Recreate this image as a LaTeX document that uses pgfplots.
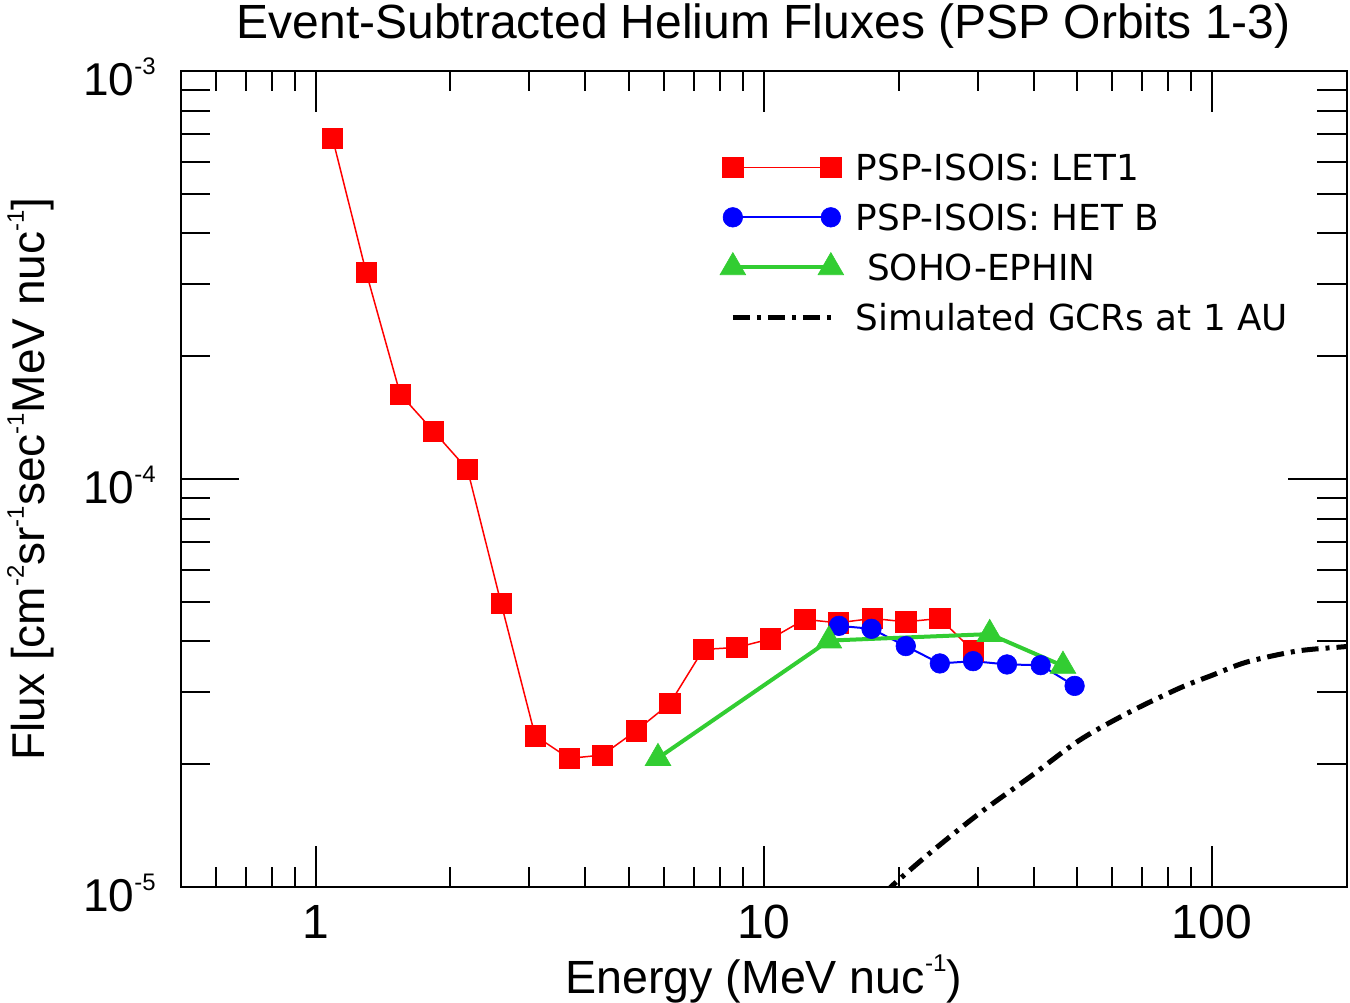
\documentclass[border=0pt]{standalone}
\usepackage{fontspec}
\setmainfont{Liberation Sans}
\newfontfamily\legendfont{DejaVu Sans}
\usepackage{graphicx}
\usepackage{pgfplots}
\pgfplotsset{compat=1.18}
\definecolor{lgreen}{RGB}{50,205,50}
\newcommand{\sups}[1]{\raisebox{0.46em}{\scalebox{0.52}{#1}}}
\begin{document}
\begin{tikzpicture}
\begin{axis}[
  at={(0pt,0pt)}, anchor=south west,
  scale only axis, width=583pt, height=408pt,
  xmode=log, ymode=log,
  xmin=0.5, xmax=200, ymin=1e-5, ymax=1e-3,
  tick align=inside, tick pos=both,
  axis line style={line width=1pt, black},
  every tick/.style={line width=1pt, black},
  major tick length=20.5pt, minor tick length=10pt,
  xtick={1,10,100}, xticklabels={1,10,100},
  minor xtick={0.6,0.7,0.8,0.9,2,3,4,5,6,7,8,9,20,30,40,50,60,70,80,90},
  ytick=\empty,
  xticklabel pos=lower,
  xticklabel style={anchor=north, inner sep=0pt, yshift=-9pt, font=\fontsize{24}{28}\selectfont},
  title={Event-Subtracted Helium Fluxes (PSP Orbits 1-3)},
  every axis title/.style={at={(0.5,1.0404)}, anchor=base, font=\fontsize{24}{28}\selectfont},
  xlabel={Energy (MeV nuc\sups{-1})},
  every axis x label/.style={at={(0.5,-0.1299)}, anchor=base, font=\fontsize{23.3}{28}\selectfont},
  ylabel={Flux [cm\sups{-2}sr\sups{-1}sec\sups{-1}MeV nuc\sups{-1}]},
  every axis y label/.style={at={(-0.1164,0.5)}, rotate=90, anchor=base, font=\fontsize{23}{27}\selectfont},
  legend image code/.code={
    \path (-7pt,0pt) (56pt,0pt);
    \draw[mark repeat=1,#1] plot coordinates {(0pt,0pt) (49pt,0pt)};
  },
  legend cell align=left,
  legend style={at={(0.4594,0.90527)}, anchor=north west, draw=none, fill=none,
     inner sep=0pt, outer sep=0pt, row sep=6pt, column sep=4.2pt,
     font=\legendfont\fontsize{17.9}{21}\selectfont,
     nodes={inner sep=0pt, text height=16pt, text depth=3pt}},
]
\addplot[red, line width=0.75pt, mark=square*, mark size=5.1pt, mark options={solid, line width=0.3pt}] coordinates {
(1.091,6.84e-4) (1.297,3.21e-4) (1.545,1.614e-4) (1.833,1.31e-4) (2.183,1.055e-4)
(2.594,4.96e-5) (3.090,2.348e-5) (3.679,2.067e-5) (4.364,2.106e-5) (5.189,2.415e-5)
(6.178,2.819e-5) (7.331,3.823e-5) (8.713,3.866e-5) (10.36,4.058e-5) (12.34,4.528e-5)
(14.66,4.442e-5) (17.49,4.553e-5) (20.75,4.467e-5) (24.72,4.553e-5) (29.32,3.793e-5)
};
\addlegendentry{PSP-ISOIS: LET1}
\addplot[blue, line width=1pt, mark=*, mark size=4.9pt, mark options={solid, line width=0.3pt}] coordinates {
(14.72,4.367e-5) (17.40,4.294e-5) (20.75,3.896e-5) (24.72,3.532e-5) (29.32,3.578e-5)
(34.91,3.512e-5) (41.50,3.498e-5) (49.41,3.112e-5)
};
\addlegendentry{PSP-ISOIS: HET B}
\addplot[lgreen, line width=2pt, mark=triangle*, mark size=7.4pt, mark options={solid, line width=0.3pt}] coordinates {
(5.809,2.070e-5) (13.98,4.018e-5) (31.94,4.168e-5) (46.54,3.484e-5)
};
\addlegendentry{\ SOHO-EPHIN}
\addplot[black, line width=2.5pt, smooth, dash pattern=on 8.5pt off 3.5pt on 2pt off 3.5pt] coordinates {
(18.6,0.96e-5) (19.42,1.011e-5) (23.48,1.211e-5) (30.35,1.518e-5) (39.23,1.860e-5)
(50.70,2.291e-5) (65.54,2.684e-5) (84.72,3.073e-5) (100.3,3.306e-5) (119.5,3.558e-5)
(154.5,3.786e-5) (192.7,3.873e-5) (210,3.90e-5)
};
\addlegendentry{Simulated GCRs at 1 AU}
\end{axis}
\begin{axis}[
  at={(0pt,0pt)}, anchor=south west,
  scale only axis, width=583pt, height=408pt,
  xmode=log, ymode=log,
  xmin=0.5, xmax=200, ymin=1e-5, ymax=1e-3,
  tick align=inside, tick pos=both,
  axis line style={line width=1pt, black},
  every tick/.style={line width=1pt, black},
  major tick length=29.5pt, minor tick length=15pt,
  xtick=\empty,
  ytick={1e-5,1e-4,1e-3},
  yticklabels={10\sups{-5},10\sups{-4},10\sups{-3}},
  minor ytick={2e-5,3e-5,4e-5,5e-5,6e-5,7e-5,8e-5,9e-5,2e-4,3e-4,4e-4,5e-4,6e-4,7e-4,8e-4,9e-4},
  yticklabel pos=left,
  yticklabel style={anchor=east, inner sep=0pt, xshift=-12.35pt, yshift=-3pt, font=\fontsize{23}{27}\selectfont},
]
\addplot[draw=none] coordinates {(1,1e-4)};
\end{axis}
\pgfresetboundingbox
\path[use as bounding box] (-90.35pt,-57.5pt) rectangle (584.65pt,443.5pt);
\end{tikzpicture}
\end{document}
